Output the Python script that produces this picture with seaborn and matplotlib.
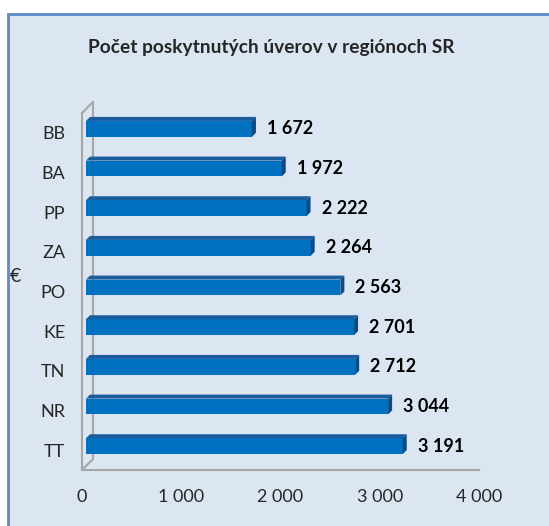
import matplotlib

matplotlib.use("Agg")
import matplotlib.pyplot as plt
import seaborn as sns
from matplotlib.patches import Polygon, Rectangle
from matplotlib.transforms import Affine2D, IdentityTransform

regions = ["BB", "BA", "PP", "ZA", "PO", "KE", "TN", "NR", "TT"]
loans = [1672, 1972, 2222, 2264, 2563, 2701, 2712, 3044, 3191]
x_ticks = [0, 1000, 2000, 3000, 4000]
title = "Počet poskytnutých úverov v regiónoch SR"
y_label = "€"

FACE = "#0070C0"
TOP = "#1A5C9C"
SIDE = "#0B4A82"
GRID = "#A6A6A6"
BG = "#DCE6F2"

sns.set_style("white")
plt.rcParams["font.family"] = ["Lato", "DejaVu Sans"]


def fmt(v):
    return f"{v:,}".replace(",", " ")


W, H = 549, 526
fig = plt.figure(figsize=(W / 100, H / 100), dpi=100)
fig.patch.set_facecolor("white")
fig.patches.append(Rectangle((8 / W, -0.01), 1.02, 1 - 14 / H + 0.01, transform=fig.transFigure,
                             facecolor=BG, edgecolor="#5B8CC8", lw=2, zorder=-5))

ax = fig.add_axes([82 / W, 56 / H, 397 / W, 357 / H])
ax.patch.set_visible(False)

sns.barplot(x=loans, y=regions, orient="h", color=FACE, saturation=1, width=0.4, ax=ax, zorder=3)
ax.set_xlim(0, 4000)
ax.set_ylim(8.5, -0.5)

# fake 3D: shift faces slightly back, add top and side faces
off = 4
depth = 4
shift = ax.transData + Affine2D().translate(off, off)
for p in list(ax.patches):
    p.set_transform(shift)
    p.set_edgecolor("none")
    x0, y0 = p.get_x(), p.get_y()
    x1, y1 = x0 + p.get_width(), y0 + p.get_height()
    (px0, py_top), (px1, py_bot) = shift.transform([(x0, y0), (x1, y1)])
    top = [(px0, py_top), (px0 + depth, py_top + depth), (px1 + depth, py_top + depth), (px1, py_top)]
    side = [(px1, py_bot), (px1, py_top), (px1 + depth, py_top + depth), (px1 + depth, py_bot + depth)]
    ax.add_patch(Polygon(top, closed=True, facecolor=TOP, edgecolor="none",
                         transform=IdentityTransform(), zorder=4))
    ax.add_patch(Polygon(side, closed=True, facecolor=SIDE, edgecolor="none",
                         transform=IdentityTransform(), zorder=4))

for i, v in enumerate(loans):
    ax.annotate(fmt(v), xy=(v, i), xytext=(off + depth + 11, off), textcoords="offset pixels",
                ha="left", va="center", fontsize=13, fontweight="bold", color="black")

# back wall of the 3D box
wall = 11
(fx, fy_top), (_, fy_bot) = ax.transData.transform([(0, -0.5), (0, 8.5)])
wall_lines = [
    [(fx, fy_top), (fx + wall, fy_top + wall)],
    [(fx + wall, fy_top + wall), (fx + wall, fy_bot + wall)],
    [(fx + wall, fy_bot + wall), (fx, fy_bot)],
]
for seg in wall_lines:
    ax.add_line(plt.Line2D([s[0] for s in seg], [s[1] for s in seg], color=GRID, lw=1.5,
                           transform=IdentityTransform(), clip_on=False, zorder=2))

for side_name in ["top", "right"]:
    ax.spines[side_name].set_visible(False)
for side_name in ["left", "bottom"]:
    ax.spines[side_name].set_color(GRID)
    ax.spines[side_name].set_linewidth(1.5)

ax.set_xticks(x_ticks)
ax.set_xticklabels([fmt(t) for t in x_ticks], fontsize=13)
ax.set_yticks(range(len(regions)))
ax.set_yticklabels(regions, fontsize=13)
ax.set_yticks([i - 0.5 for i in range(len(regions) + 1)], minor=True)
ax.tick_params(axis="y", which="major", length=0, pad=12)
ax.tick_params(axis="y", which="minor", length=5, width=1.5, color=GRID, direction="out")
ax.tick_params(axis="x", which="major", length=5, width=1.5, color=GRID, direction="out", pad=9)
ax.set_xlabel("")
ax.set_ylabel("")

fig.text(15 / W, 1 - 276 / H, y_label, ha="center", va="center", fontsize=14)
fig.text(271 / W, 1 - 47 / H, title, ha="center", va="center", fontsize=13.8, fontweight="bold")

fig.savefig("out.png", dpi=100)
